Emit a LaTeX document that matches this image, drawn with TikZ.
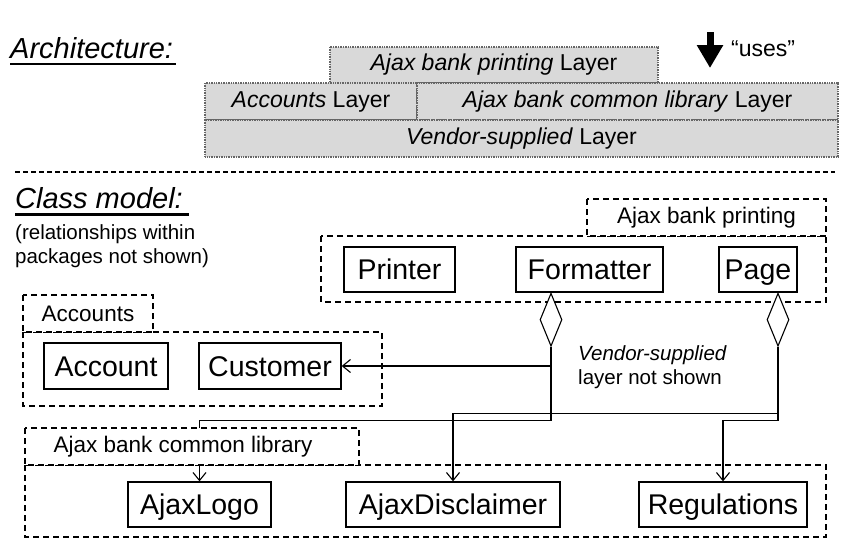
\documentclass[tikz,border=0pt]{standalone}
\usepackage{fontspec}
\setmainfont{Liberation Sans}
\usetikzlibrary{arrows.meta,shapes.geometric}
\begin{document}
\begin{tikzpicture}[x=1pt,y=-1pt,
  cls/.style={draw, line width=1.3pt, minimum height=45pt, inner sep=0pt, text height=21pt, text depth=1pt, font=\fontsize{28.5}{30}\selectfont},
  pkg/.style={draw, dash pattern=on 6pt off 4pt, line width=1.1pt},
  pkglabel/.style={font=\fontsize{22.5}{24}\selectfont},
  layer/.style={draw=black!60, dash pattern=on 1pt off 0.7pt, fill=gray!30, line width=1.1pt, inner sep=0pt, font=\fontsize{23}{25}\selectfont},
  title/.style={font=\fontsize{29}{31}\selectfont\itshape, anchor=base west, inner sep=0pt},
  note/.style={font=\fontsize{20.5}{23}\selectfont, anchor=base west, inner sep=0pt},
  nav/.style={-{Straight Barb[length=8pt,width=13pt]}, line width=1.1pt},
  diam/.style={draw, diamond, line width=1.1pt, inner sep=0pt, minimum width=22pt, minimum height=53pt, fill=white},
]
\useasboundingbox (0,0) rectangle (856,558);

% ---------- Architecture ----------
\node[title] (arch) at (10,58) {Architecture:};
\draw[line width=2.2pt] (arch.south west) ++(0,5.5) -- ++(166,0);

\draw[layer] (330,47) rectangle (658,83);
\node[font=\fontsize{23}{25}\selectfont] (lprint) at (494,65) {\textit{Ajax bank printing} Layer};
\draw[layer] (205,83) rectangle (417,120);
\node[font=\fontsize{23}{25}\selectfont] (lacc) at (311,101.5) {\textit{Accounts} Layer};
\draw[layer] (417,83) rectangle (838,120);
\node[font=\fontsize{23}{25}\selectfont] (lcom) at (627.5,101.5) {\textit{Ajax bank common library} Layer};
\draw[layer] (205,120) rectangle (838,157);
\node[font=\fontsize{23}{25}\selectfont] (lven) at (521.5,138.5) {\textit{Vendor-supplied} Layer};

\coordinate (ua) at (710,32);
\coordinate (ub) at (710,68);
\draw[line width=7pt, -{Triangle[length=23pt,width=25pt]}] (ua) -- (ub);
\node[font=\fontsize{23}{25}\selectfont, anchor=base west, inner sep=0pt] (uses) at (731,56) {“uses”};

\draw[line width=1.2pt, dash pattern=on 5pt off 3pt] (15,172) -- (835,172);

% ---------- Class model ----------
\node[title] (cm) at (15,208) {Class model:};
\draw[line width=2.2pt] (cm.south west) ++(0,6) -- ++(174,0);
\node[note] (n1) at (15,239) {(relationships within};
\node[note] (n2) at (15,263) {packages not shown)};

% packages
\draw[pkg] (321,236) rectangle (826,302);
\draw[pkg] (23,332) rectangle (382,406);
\draw[pkg] (25,465) rectangle (826,537);

% classes
\node[cls, minimum width=111pt] (printer) at (399.5,269.5) {Printer};
\node[cls, minimum width=147pt] (fmt) at (589.5,269.5) {Formatter};
\node[cls, minimum width=78pt] (page) at (758,269.5) {Page};
\node[cls, minimum width=124pt, minimum height=46pt] (acc) at (106,366) {Account};
\node[cls, minimum width=142pt, minimum height=46pt] (cust) at (270,366) {Customer};
\node[cls, minimum width=143pt] (logo) at (199.5,504.5) {AjaxLogo};
\node[cls, minimum width=214pt] (disc) at (453,504.5) {AjaxDisclaimer};
\node[cls, minimum width=168pt] (reg) at (723,504.5) {Regulations};

% aggregation diamonds
\node[diam, anchor=north] (fdia) at ([xshift=-38.5pt]fmt.south) {};
\node[diam, anchor=north] (pdia) at ([xshift=20pt]page.south) {};

% connectors
\draw[nav] (fdia.south) |- (cust.east);
\draw[nav] (fdia.south) -- ++(0,74) -| (logo.north);
\draw[nav] (pdia.south) -- ++(0,67) -| (disc.north);
\draw[nav] (pdia.south) -- ++(0,74) -| (reg.north);

% package tabs (drawn last, white)
\draw[pkg, fill=white] (587,199) rectangle (826,236);
\node[pkglabel] (tprint) at (706.5,217.5) {Ajax bank printing};
\draw[pkg, fill=white] (23,295) rectangle (153,332);
\node[pkglabel] (tacc) at (88,313.5) {Accounts};
\draw[pkg, fill=white] (25,428) rectangle (359,465);
\node[pkglabel] (tcom) at (183,446.5) {Ajax bank common library};

% note
\node[note, font=\fontsize{20.5}{23}\selectfont\itshape] (v1) at (578,360) {Vendor-supplied};
\node[note] (v2) at (578,384) {layer not shown};
\end{tikzpicture}
\end{document}
